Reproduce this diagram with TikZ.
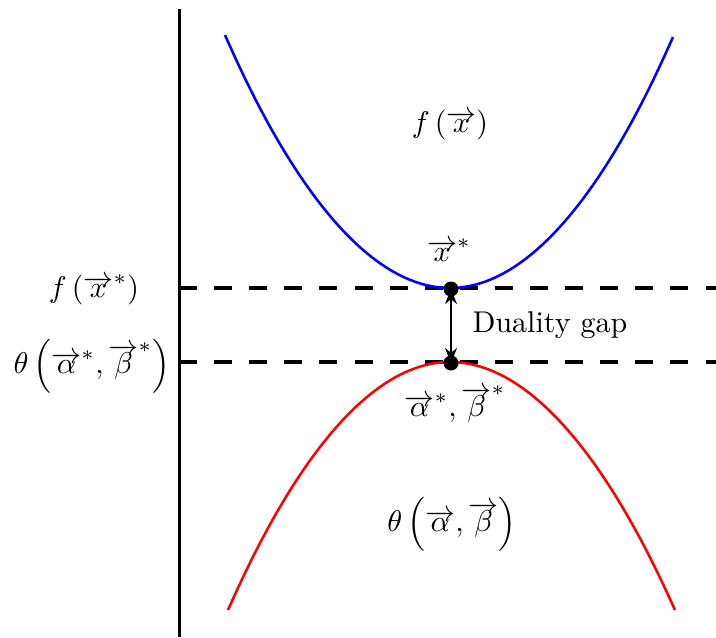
\documentclass[tikz,border=0pt]{standalone}
\usetikzlibrary{arrows.meta}
\begin{document}
\begin{tikzpicture}[x=0.3333pt,y=-0.3333pt,
  axisline/.style={line width=1pt},
  gapline/.style={line width=1.1pt,dash pattern=on 6pt off 5.7pt},
  curve/.style={line width=0.85pt},
  dot/.style={circle,fill=black,inner sep=0pt,minimum size=5pt},
  lbl/.style={inner sep=0pt}]
\useasboundingbox (0,0) rectangle (716,637);
% axis
\coordinate (axtop) at (179,9);
\coordinate (axbot) at (179,637);
\draw[axisline] (axtop) -- (axbot);
% dashed levels
\coordinate (d1l) at (179,288);
\coordinate (d1r) at (716,288);
\coordinate (d2l) at (179,362);
\coordinate (d2r) at (716,362);
\draw[gapline] (d1l) -- (d1r);
\draw[gapline] (d2l) -- (d2r);
% curves
\draw[curve,blue] (225,35) parabola bend (450,288) (673,37);
\draw[curve,red] (228,610) parabola bend (450,362) (675,610);
% dots
\node[dot] (p) at (451,289) {};
\node[dot] (q) at (451,363) {};
\draw[line width=0.75pt,{Stealth[length=5pt,width=4pt]}-{Stealth[length=5pt,width=4pt]}] (p.center) -- (q.center);
% labels
\node[lbl] (fx) at (450,125) {$f\left(\overrightarrow{x}\right)$};
\node[lbl] (xs) at (449,250) {$\overrightarrow{x}^*$};
\node[lbl,anchor=west] (gap) at (472,325) {Duality gap};
\node[lbl] (ab) at (455,404) {$\overrightarrow{\alpha}^*,\overrightarrow{\beta}^*$};
\node[lbl] (th) at (452,524) {$\theta\left(\overrightarrow{\alpha},\overrightarrow{\beta}\right)$};
\node[lbl] (fxs) at (94,290) {$f\left(\overrightarrow{x}^*\right)$};
\node[lbl] (ths) at (92,366) {$\theta\left(\overrightarrow{\alpha}^*,\overrightarrow{\beta}^*\right)$};
\end{tikzpicture}
\end{document}
